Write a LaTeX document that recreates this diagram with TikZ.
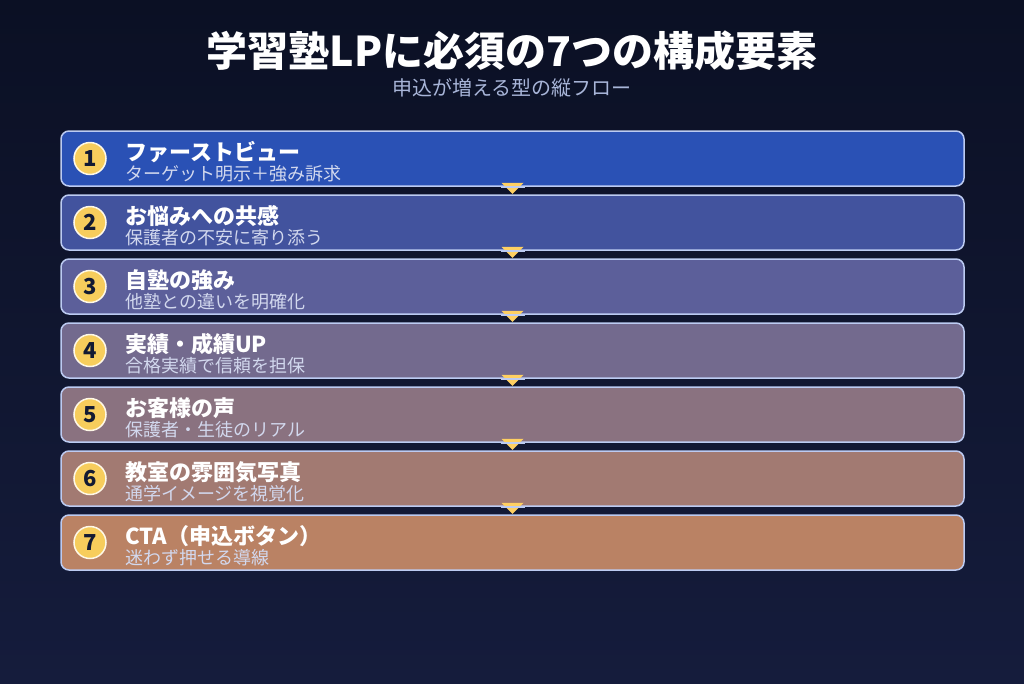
\documentclass[tikz,border=0pt]{standalone}
\usepackage{fontspec}
\setmainfont{Noto Sans CJK JP}
\usetikzlibrary{shapes.geometric}
\definecolor{bgtop}{HTML}{0B1024}
\definecolor{bgbot}{HTML}{151C3C}
\definecolor{cA}{HTML}{2A51B5}
\definecolor{cB}{HTML}{42539E}
\definecolor{cC}{HTML}{5C5F9A}
\definecolor{cD}{HTML}{736A8E}
\definecolor{cE}{HTML}{8A7280}
\definecolor{cF}{HTML}{A27A72}
\definecolor{cG}{HTML}{BA8264}
\definecolor{edgec}{HTML}{BCCBF2}
\definecolor{badge}{HTML}{F7CD5C}
\definecolor{numc}{HTML}{121A33}
\definecolor{subc}{HTML}{D2D8EE}
\definecolor{tsub}{HTML}{A8B5D8}
\definecolor{arrowc}{HTML}{FFD062}
\tikzset{
  x=1pt,y=-1pt,
  stepbox/.style={draw=edgec,line width=1.5pt,rounded corners=8pt,minimum width=903pt,minimum height=55pt,inner sep=0pt},
  badgec/.style={circle,fill=badge,draw=white!85!badge,line width=1.5pt,minimum size=32pt,inner sep=0pt,font=\fontsize{22}{23}\selectfont\bfseries,text=numc},
  headt/.style={anchor=base west,font=\fontsize{22}{23}\selectfont\bfseries,text=white,inner sep=0pt},
  subt/.style={anchor=base west,font=\fontsize{18}{19}\selectfont,text=subc,inner sep=0pt},
  tri/.style={fill=arrowc,isosceles triangle,shape border rotate=-90,isosceles triangle apex angle=90,minimum width=22pt,minimum height=8pt,inner sep=0pt,anchor=apex}
}
\begin{document}
\begin{tikzpicture}
\shade[top color=bgtop,bottom color=bgbot] (0,0) rectangle (1024,683);
\useasboundingbox (0,0) rectangle (1024,683);
\node[font=\fontsize{41}{43}\selectfont\bfseries,text=white] (title) at (512,51) {学習塾LPに必須の7つの構成要素};
\node[font=\fontsize{20}{21}\selectfont,text=tsub] (subtitle) at (512,88) {申込が増える型の縦フロー};
\foreach \i/\c/\h/\s [count=\k] in {
  1/cA/ファーストビュー/ターゲット明示＋強み訴求,
  2/cB/お悩みへの共感/保護者の不安に寄り添う,
  3/cC/自塾の強み/他塾との違いを明確化,
  4/cD/実績・成績UP/合格実績で信頼を担保,
  5/cE/お客様の声/保護者・生徒のリアル,
  6/cF/教室の雰囲気写真/通学イメージを視覚化,
  7/cG/CTA（申込ボタン）/迷わず押せる導線}{
  \pgfmathsetmacro{\yc}{158.5+64*(\k-1)}
  \node[stepbox,fill=\c] (box\k) at (512.5,\yc) {};
  \node[badgec] (num\k) at (90,\yc) {\i};
  \node[headt] (head\k) at (125,\yc+2) {\h};
  \node[subt] (sub\k) at (125,\yc+22.3) {\s};
}
\foreach \k in {1,...,6}{
  \coordinate (tip\k) at ([yshift=-7.5pt]box\k.south);
  \node[tri] (arr\k) at (tip\k) {};
  \draw[edgec,line width=1.5pt] ([xshift=-12pt]box\k.south) -- ([xshift=12pt]box\k.south);
}
\end{tikzpicture}
\end{document}
